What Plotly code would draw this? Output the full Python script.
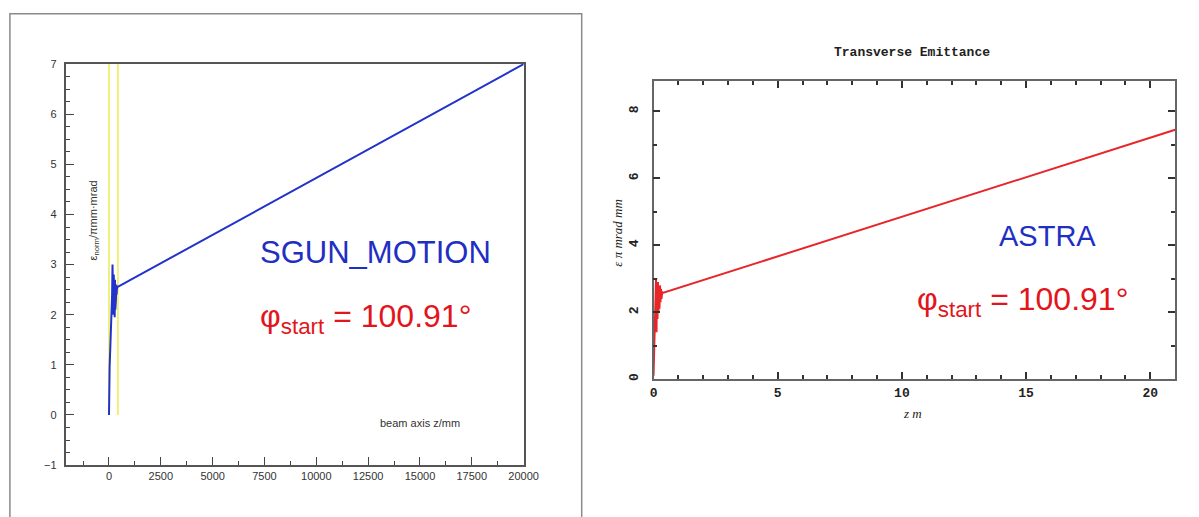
import plotly.graph_objects as go

W, H = 1199, 517

# ---------------- data ----------------
# SGUN_MOTION: normalized emittance vs beam axis z (mm)
sgun_z = [0, 0, 30, 60, 100, 130, 150, 170, 185, 200, 215, 230, 245, 260, 275, 290,
          305, 320, 335, 350, 365, 380, 400, 20000]
sgun_eps = [0.0, 0.9, 0.95, 1.3, 1.7, 2.1, 2.4, 3.0, 2.1, 2.85, 2.0, 2.8, 2.0, 2.75, 1.95,
            2.7, 2.1, 2.65, 2.3, 2.6, 2.4, 2.5, 2.55, 7.0]
# yellow marker lines (mm)
yellow_z = [0, 430]
yellow_eps = [0, 7]

# ASTRA: transverse emittance vs z (m)
astra_z = [0.0, 0.02, 0.04, 0.06, 0.08, 0.10, 0.12, 0.14, 0.16, 0.18, 0.20, 0.22, 0.24,
           0.26, 0.28, 0.30, 0.32, 0.35, 0.40, 21.0]
astra_eps = [0.1, 0.8, 1.4, 2.2, 2.8, 3.0, 1.4, 2.9, 1.8, 2.9, 2.0, 2.8, 2.1, 2.8, 2.3,
             2.7, 2.4, 2.6, 2.58, 7.45]
astra_ref_z = [0.0, 0.15]
astra_ref_eps = [3.0, 3.0]

# tick spacing (major, minor)
left_x_step, left_x_minor = 2500, 1250
left_y_step, left_y_minor = 1, 0.25
right_x_step, right_x_minor = 5, 1
right_y_step, right_y_minor = 2, 1


def px(x):
    return x / W


def py(y):
    return 1 - y / H


fig = go.Figure()

# left panel
for zv in yellow_z:
    fig.add_trace(go.Scatter(x=[zv, zv], y=yellow_eps, mode="lines",
                             line=dict(color="#eded5a", width=1.6),
                             xaxis="x", yaxis="y", showlegend=False, hoverinfo="skip"))
fig.add_trace(go.Scatter(x=sgun_z, y=sgun_eps, mode="lines",
                         line=dict(color="#2233cc", width=2),
                         xaxis="x", yaxis="y", showlegend=False))

# right panel
fig.add_trace(go.Scatter(x=astra_z, y=astra_eps, mode="lines",
                         line=dict(color="#e8262a", width=2),
                         xaxis="x2", yaxis="y2", showlegend=False))
fig.add_trace(go.Scatter(x=astra_ref_z, y=astra_ref_eps, mode="lines",
                         line=dict(color="#222222", width=1.2),
                         xaxis="x2", yaxis="y2", showlegend=False))

left_tick_font = dict(family="Liberation Sans, Arial, sans-serif", size=11, color="#333333")
right_tick_font = dict(family="Liberation Mono, Courier New, monospace", size=13, color="#222222",
                       weight="bold")

fig.update_layout(
    width=W, height=H,
    margin=dict(l=0, r=0, t=0, b=0),
    paper_bgcolor="white", plot_bgcolor="white",
    xaxis=dict(domain=[px(63.5), px(528)], range=[-2050, 20000], anchor="y",
               tickmode="linear", tick0=0, dtick=left_x_step, tickformat="d",
               ticks="inside", ticklen=8, tickwidth=1.2, tickcolor="#444444",
               minor=dict(dtick=left_x_minor, tick0=0, ticks="inside", ticklen=4,
                          tickwidth=1, tickcolor="#444444"),
               showline=True, linecolor="#555555", linewidth=1.5, mirror=True,
               showgrid=False, zeroline=False, tickfont=left_tick_font, fixedrange=True),
    yaxis=dict(domain=[py(470), py(59.5)], range=[-1, 7], anchor="x",
               tickmode="linear", tick0=0, dtick=left_y_step,
               ticks="inside", ticklen=8, tickwidth=1.2, tickcolor="#444444",
               minor=dict(dtick=left_y_minor, tick0=0, ticks="inside", ticklen=4,
                          tickwidth=1, tickcolor="#444444"),
               showline=True, linecolor="#555555", linewidth=1.5, mirror=True,
               showgrid=False, zeroline=False, tickfont=left_tick_font,
               ticklabelstandoff=6, fixedrange=True),
    xaxis2=dict(domain=[px(660), px(1190)], range=[0, 21], anchor="y2",
                tickmode="linear", tick0=0, dtick=right_x_step,
                ticks="inside", ticklen=7, tickwidth=1.5, tickcolor="#333333",
                minor=dict(dtick=right_x_minor, tick0=0, ticks="inside", ticklen=4,
                           tickwidth=1.5, tickcolor="#333333"),
                showline=True, linecolor="#666666", linewidth=1.8, mirror="ticks",
                showgrid=False, zeroline=False, tickfont=right_tick_font, fixedrange=True),
    yaxis2=dict(domain=[py(382), py(77)], range=[0, 8.9], anchor="x2",
                tickmode="linear", tick0=0, dtick=right_y_step,
                ticks="inside", ticklen=7, tickwidth=1.5, tickcolor="#333333",
                minor=dict(dtick=right_y_minor, tick0=0, ticks="inside", ticklen=4,
                           tickwidth=1.5, tickcolor="#333333"),
                showline=True, linecolor="#666666", linewidth=1.8, mirror="ticks",
                showgrid=False, zeroline=False, tickfont=right_tick_font, tickangle=-90,
                ticklabelstandoff=8, fixedrange=True),
    shapes=[dict(type="rect", xref="paper", yref="paper",
                 x0=px(6), x1=px(587), y0=-0.05, y1=py(8),
                 line=dict(color="#8a8a8a", width=1.5), fillcolor="rgba(0,0,0,0)")],
    annotations=[
        dict(text="SGUN_MOTION", xref="paper", yref="paper", x=px(258), y=py(252),
             xanchor="left", yanchor="middle", showarrow=False,
             font=dict(family="Liberation Sans, Arial, sans-serif", size=31, color="#1f2fc4")),
        dict(text="\u03c6<sub>start</sub> = 100.91\u00b0", xref="paper", yref="paper",
             x=px(258), y=py(320), xanchor="left", yanchor="middle", showarrow=False,
             font=dict(family="Liberation Sans, Arial, sans-serif", size=32, color="#e3151c")),
        dict(text="beam axis z/mm", xref="paper", yref="paper", x=px(380), y=py(427),
             xanchor="left", yanchor="middle", showarrow=False,
             font=dict(family="Liberation Sans, Arial, sans-serif", size=11, color="#333333")),
        dict(text="\u03b5<sub>norm</sub>/\u03c0mm\u00b7mrad", xref="paper", yref="paper",
             x=px(91), y=py(220), xanchor="center", yanchor="middle", showarrow=False,
             textangle=-90,
             font=dict(family="Liberation Sans, Arial, sans-serif", size=11, color="#333333")),
        dict(text="<b>Transverse Emittance</b>", xref="paper", yref="paper",
             x=px(923), y=py(48), xanchor="center", yanchor="middle", showarrow=False,
             font=dict(family="Liberation Mono, Courier New, monospace", size=13, color="#222222")),
        dict(text="ASTRA", xref="paper", yref="paper", x=px(1009), y=py(235),
             xanchor="left", yanchor="middle", showarrow=False,
             font=dict(family="Liberation Sans, Arial, sans-serif", size=29, color="#1f2fc4")),
        dict(text="\u03c6<sub>start</sub> = 100.91\u00b0", xref="paper", yref="paper",
             x=px(926), y=py(303), xanchor="left", yanchor="middle", showarrow=False,
             font=dict(family="Liberation Sans, Arial, sans-serif", size=32, color="#e3151c")),
        dict(text="<i>z m</i>", xref="paper", yref="paper", x=px(923), y=py(417),
             xanchor="center", yanchor="middle", showarrow=False,
             font=dict(family="Liberation Serif, Times New Roman, serif", size=13, color="#222222")),
        dict(text="<i>\u03b5 \u03c0 mrad mm</i>", xref="paper", yref="paper",
             x=px(624), y=py(232), xanchor="center", yanchor="middle", showarrow=False,
             textangle=-90,
             font=dict(family="Liberation Serif, Times New Roman, serif", size=13, color="#222222")),
    ],
)

fig.write_html("out.html")
